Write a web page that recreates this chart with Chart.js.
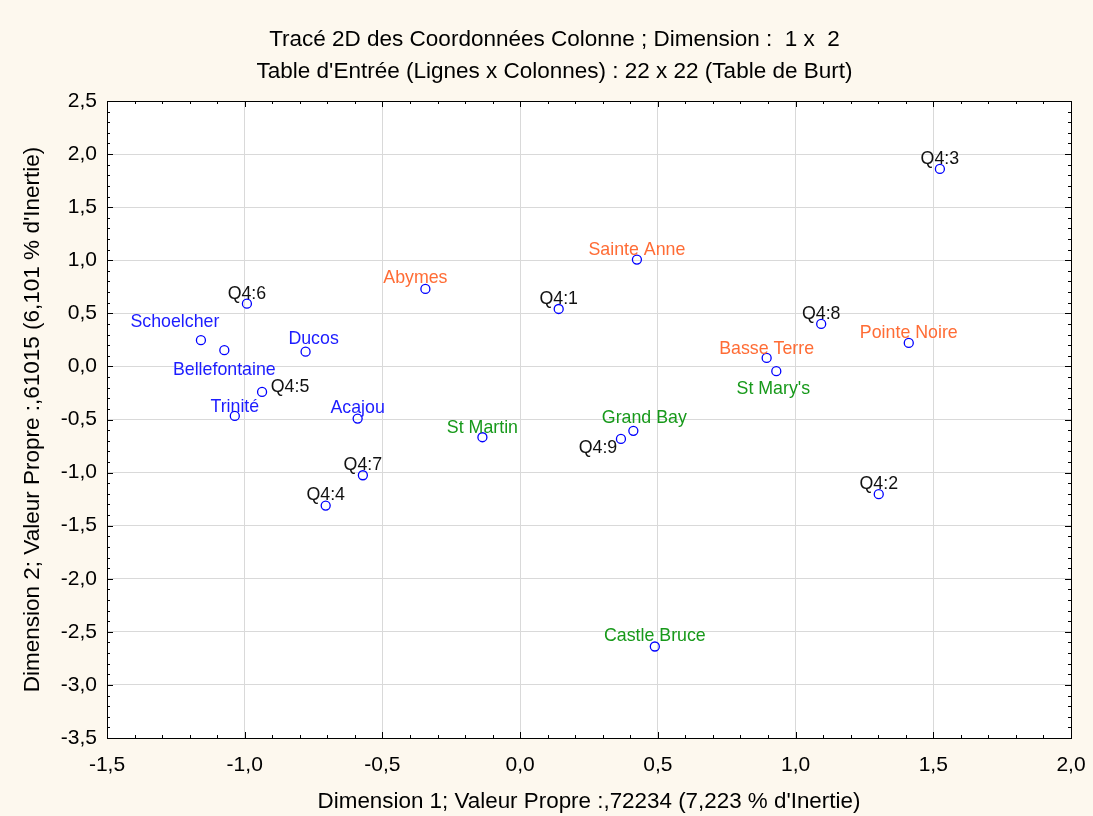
<!DOCTYPE html>
<html>
<head>
<meta charset="utf-8">
<script src="https://cdn.jsdelivr.net/npm/chart.js@4/dist/chart.umd.min.js"></script>
<style>
  html, body { margin: 0; padding: 0; background: #fdf8ee; }
  #wrap { width: 1093px; height: 816px; }
</style>
</head>
<body>
<div id="wrap"><canvas id="js-scatter-chart"></canvas></div>
<script>
// Column coordinates, dimension 1 x 2
const pointNames = [
  'Schoelcher', 'Bellefontaine', 'Ducos', 'Trinité', 'Acajou',
  'Abymes', 'Sainte Anne', 'Basse Terre', 'Pointe Noire',
  'St Martin', 'Grand Bay', "St Mary's", 'Castle Bruce',
  'Q4:1', 'Q4:2', 'Q4:3', 'Q4:4', 'Q4:5', 'Q4:6', 'Q4:7', 'Q4:8', 'Q4:9'
];
const dim1 = [
  -1.159, -1.074, -0.779, -1.036, -0.590,
  -0.344, 0.424, 0.895, 1.411,
  -0.137, 0.411, 0.930, 0.489,
  0.140, 1.302, 1.524, -0.706, -0.937, -0.992, -0.571, 1.093, 0.366
];
const dim2 = [
  0.247, 0.153, 0.139, -0.466, -0.491,
  0.730, 1.006, 0.080, 0.221,
  -0.667, -0.607, -0.045, -2.638,
  0.541, -1.203, 1.860, -1.311, -0.240, 0.591, -1.025, 0.400, -0.683
];
const groups = [
  'mq', 'mq', 'mq', 'mq', 'mq',
  'gp', 'gp', 'gp', 'gp',
  'dm', 'dm', 'dm', 'dm',
  'q4', 'q4', 'q4', 'q4', 'q4', 'q4', 'q4', 'q4', 'q4'
];
const xTicks = [-1.5, -1.0, -0.5, 0.0, 0.5, 1.0, 1.5, 2.0];
const yTicks = [-3.5, -3.0, -2.5, -2.0, -1.5, -1.0, -0.5, 0.0, 0.5, 1.0, 1.5, 2.0, 2.5];

// label colours per group
const groupColors = { mq: '#1c1cff', gp: '#ff6c35', dm: '#17991a', q4: '#111111' };

// label placement relative to the marker (px), default is just above
const labelShift = {
  'Schoelcher': [-26, -18],
  'Bellefontaine': [0, 20],
  'Ducos': [8, -13],
  'Trinité': [0, -9],
  'Abymes': [-10, -11],
  'Grand Bay': [11, -13],
  "St Mary's": [-3, 18],
  'Q4:5': [28, -5],
  'Q4:9': [-23, 9],
  'Basse Terre': [0, -9],
  'St Martin': [0, -9]
};

const fmt = (v) => (Math.abs(v) < 1e-9 ? 0 : v).toFixed(1).replace('.', ',');

const plotBackground = {
  id: 'plotBackground',
  beforeDraw(chart) {
    const { ctx, chartArea: a } = chart;
    ctx.save();
    ctx.fillStyle = '#ffffff';
    ctx.fillRect(a.left, a.top, a.right - a.left, a.bottom - a.top);
    ctx.restore();
  }
};

// frame with inward major/minor tick marks on all four sides
const frameTicks = {
  id: 'frameTicks',
  afterDatasetsDraw(chart) {
    const { ctx, chartArea: a, scales } = chart;
    ctx.save();
    ctx.strokeStyle = '#000000';
    ctx.lineWidth = 1;
    ctx.beginPath();
    for (let i = -15; i <= 20; i++) {
      const px = Math.round(scales.x.getPixelForValue(i / 10)) + 0.5;
      const len = i % 5 === 0 ? 6 : 3;
      ctx.moveTo(px, a.bottom); ctx.lineTo(px, a.bottom - len);
      ctx.moveTo(px, a.top); ctx.lineTo(px, a.top + len);
    }
    for (let i = -35; i <= 25; i++) {
      const py = Math.round(scales.y.getPixelForValue(i / 10)) + 0.5;
      const len = i % 5 === 0 ? 6 : 3;
      ctx.moveTo(a.left, py); ctx.lineTo(a.left + len, py);
      ctx.moveTo(a.right, py); ctx.lineTo(a.right - len, py);
    }
    ctx.stroke();
    ctx.strokeRect(Math.round(a.left) + 0.5, Math.round(a.top) + 0.5,
      Math.round(a.right - a.left), Math.round(a.bottom - a.top));
    ctx.restore();
  }
};

// text labels next to each point
const pointLabels = {
  id: 'pointLabels',
  afterDatasetsDraw(chart) {
    const { ctx } = chart;
    const meta = chart.getDatasetMeta(0);
    ctx.save();
    ctx.font = '17.8px Arial, "Liberation Sans", sans-serif';
    ctx.textAlign = 'center';
    ctx.textBaseline = 'middle';
    meta.data.forEach((pt, i) => {
      const name = pointNames[i];
      const shift = labelShift[name] || [0, -10];
      ctx.fillStyle = groupColors[groups[i]];
      ctx.fillText(name, pt.x + shift[0], pt.y + shift[1]);
    });
    ctx.restore();
  }
};

const scatterContext = document.getElementById('js-scatter-chart').getContext('2d');

const scatterChart = new Chart(scatterContext, {
  type: 'scatter',
  data: {
    datasets: [
      {
        label: 'Coordonnées colonne',
        data: dim1.map((x, i) => ({ x: x, y: dim2[i] })),
        pointStyle: 'circle',
        pointRadius: 4.5,
        pointBorderWidth: 1.3,
        borderColor: '#0000ff',
        backgroundColor: 'rgba(255,255,255,0)'
      }
    ]
  },
  options: {
    responsive: true,
    maintainAspectRatio: false,
    animation: false,
    layout: { padding: { left: 38, right: 22 } },
    plugins: {
      legend: { display: false },
      tooltip: { enabled: false },
      title: {
        display: true,
        text: [
          'Tracé 2D des Coordonnées Colonne ; Dimension :  1 x  2',
          "Table d'Entrée (Lignes x Colonnes) : 22 x 22 (Table de Burt)"
        ],
        color: '#000000',
        font: { family: 'Arial, "Liberation Sans", sans-serif', size: 22.5, weight: 'normal', lineHeight: '32px' },
        padding: { top: 24, bottom: 13 }
      }
    },
    scales: {
      x: {
        type: 'linear',
        min: -1.5,
        max: 2.0,
        afterBuildTicks: (scale) => { scale.ticks = xTicks.map((v) => ({ value: v })); },
        afterFit: (scale) => {
          scale.height = 78;
          scale.paddingLeft = 0;
          scale.paddingRight = 0;
        },
        grid: { color: '#d9d9d9', lineWidth: 1, drawTicks: false },
        border: { display: false },
        ticks: {
          color: '#000000',
          padding: 15,
          font: { family: 'Arial, "Liberation Sans", sans-serif', size: 21 },
          callback: (value) => fmt(value)
        },
        title: {
          display: true,
          text: "Dimension 1; Valeur Propre :,72234 (7,223 % d'Inertie)",
          color: '#000000',
          font: { family: 'Arial, "Liberation Sans", sans-serif', size: 22.4 },
          padding: { top: 0, bottom: 1 }
        }
      },
      y: {
        type: 'linear',
        min: -3.5,
        max: 2.5,
        afterBuildTicks: (scale) => { scale.ticks = yTicks.map((v) => ({ value: v })); },
        afterFit: (scale) => { scale.width = 69; },
        grid: { color: '#d9d9d9', lineWidth: 1, drawTicks: false },
        border: { display: false },
        ticks: {
          color: '#000000',
          padding: 10,
          font: { family: 'Arial, "Liberation Sans", sans-serif', size: 21 },
          callback: (value) => fmt(value)
        },
        title: {
          display: true,
          text: "Dimension 2; Valeur Propre :,61015 (6,101 % d'Inertie)",
          color: '#000000',
          font: { family: 'Arial, "Liberation Sans", sans-serif', size: 22.5 },
          padding: { top: -19, bottom: 0 }
        }
      }
    }
  },
  plugins: [plotBackground, frameTicks, pointLabels]
});
</script>
</body>
</html>
